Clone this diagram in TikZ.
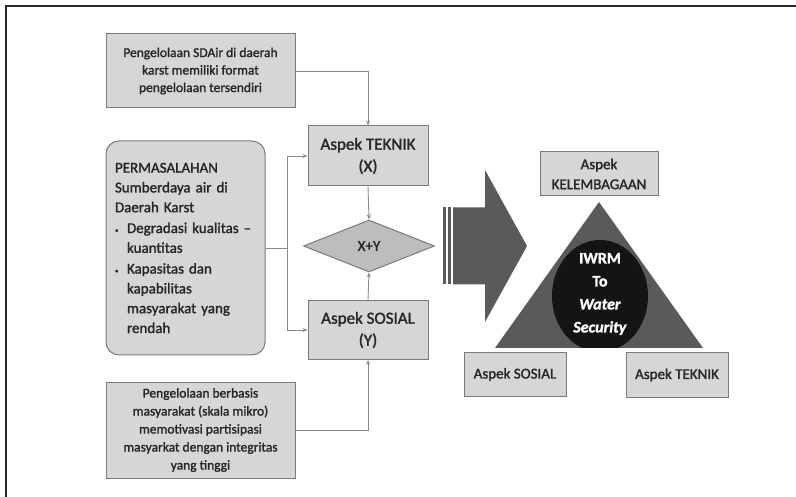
\documentclass[tikz,border=0pt]{standalone}
\usepackage{fontspec}
\setmainfont{Carlito}[FakeBold=1.5]
\usetikzlibrary{shapes.geometric,arrows.meta}
\definecolor{boxfill}{HTML}{D6D6D6}
\definecolor{boxline}{HTML}{7A7A7A}
\definecolor{diafill}{HTML}{BDBDBD}
\definecolor{darkshape}{HTML}{5A5A5A}
\definecolor{connline}{HTML}{8A8A8A}
\definecolor{txt}{HTML}{262626}
\newcommand{\blt}{\makebox[12pt][l]{\raisebox{0.5pt}{\scriptsize\textbullet}}}
\tikzset{
  infobox/.style={draw=boxline, line width=1pt, fill=boxfill, text=txt,
    inner sep=0pt, align=center},
  aspekbox/.style={infobox, font=\fontsize{15}{20}\selectfont},
  conn/.style={draw=connline, line width=0.9pt, -{Stealth[length=5pt,width=4pt]}},
  plainconn/.style={draw=connline, line width=0.9pt},
}
\begin{document}
\begin{tikzpicture}[x=1pt,y=-1pt]
\useasboundingbox (0,0) rectangle (796,497);
% page frame (top and left rules)
\draw[line width=1.3pt, black!85] (6,497) -- (6,6) -- (796,6);

% left column: source boxes
\node[infobox, minimum width=189pt, minimum height=74pt,
      font=\fontsize{13.5}{17.5}\selectfont] (src) at (200.5,71)
  {Pengelolaan SDAir di daerah\\karst memiliki format\\pengelolaan tersendiri};
\node[infobox, rounded corners=13pt, minimum width=159pt, minimum height=214pt,
      font=\fontsize{15}{19.8}\selectfont, align=left, text width=141pt] (prob) at (185.5,248)
  {PERMASALAHAN\\Sumberdaya air di\\Daerah Karst\\[1pt]
   \blt Degradasi kualitas --\\
   \hspace*{12pt}kuantitas\\[1pt]
   \blt Kapasitas dan\\
   \hspace*{12pt}kapabilitas\\
   \hspace*{12pt}masyarakat yang\\
   \hspace*{12pt}rendah};
\node[infobox, minimum width=189pt, minimum height=96pt,
      font=\fontsize{13.5}{18}\selectfont] (comm) at (200.5,430)
  {Pengelolaan berbasis\\masyarakat (skala mikro)\\memotivasi partisipasi\\masyarkat dengan integritas\\yang tinggi};

% middle column: aspects and their sum
\node[infobox, minimum width=120pt, minimum height=60pt,
      font=\fontsize{17}{22}\selectfont] (tek) at (368,156) {Aspek TEKNIK\\(X)};
\node[diamond, draw=boxline, line width=1pt, fill=diafill, text=txt, inner sep=0pt,
      minimum width=131pt, minimum height=52pt,
      font=\fontsize{15}{18}\selectfont] (sum) at (369,246) {X+Y};
\node[infobox, minimum width=120pt, minimum height=59pt,
      font=\fontsize{17}{22}\selectfont] (sos) at (368,330) {Aspek SOSIAL\\(Y)};

% connectors
\coordinate (split) at (287,248);
\draw[conn] (src.east) -| (tek.north);
\draw[plainconn] (prob.east) -- (split);
\draw[conn] (split) |- (tek.west);
\draw[conn] (split) |- (sos.west);
\draw[conn] (tek.south) -- (sum.north);
\draw[conn] (sos.north) -- (sum.south);
\draw[conn] (comm.east) -| (sos.south);

% striped block arrow
\fill[darkshape] (443,207.5) rectangle (446,284.5);
\fill[darkshape] (448,207.5) rectangle (451,284.5);
\fill[darkshape] (453,207.5) -- (485,207.5) -- (485,170) -- (527,246)
  -- (485,322) -- (485,284.5) -- (453,284.5) -- cycle;

% triangle with IWRM core, the core clipped by the base
\fill[darkshape] (599,202) -- (703,348) -- (495,348) -- cycle;
\begin{scope}
  \clip (540,230) rectangle (660,348);
  \fill[black!92] (600,296) ellipse [x radius=48pt, y radius=56pt];
\end{scope}
\node[text=white, align=center, font=\bfseries\fontsize{16}{23}\selectfont] (core) at (600,294)
  {IWRM\\To\\\textit{Water}\\\textit{Security}};

% the three aspect labels around the triangle
\node[aspekbox, minimum width=118pt, minimum height=44pt] (kel) at (599,174) {Aspek\\KELEMBAGAAN};
\node[aspekbox, minimum width=102pt, minimum height=43pt] (sos2) at (515,374.5) {Aspek SOSIAL};
\node[aspekbox, minimum width=102pt, minimum height=44pt] (tek2) at (677,375) {Aspek TEKNIK};
\end{tikzpicture}
\end{document}
